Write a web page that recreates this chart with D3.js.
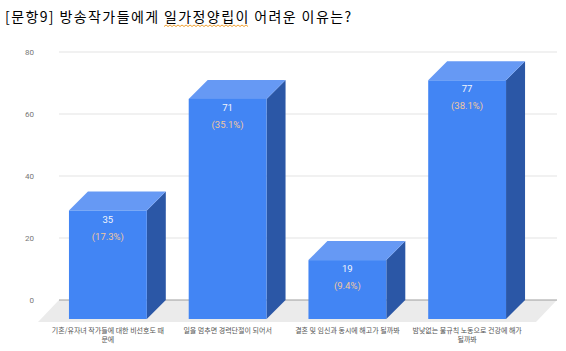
<!DOCTYPE html>
<html>
<head>
<meta charset="utf-8">
<script src="https://cdn.jsdelivr.net/npm/d3@7"></script>
<style>
  body { margin: 0; background: #fff; }
  text { font-family: Roboto, "Noto Sans CJK KR", sans-serif; }
</style>
</head>
<body>
<div id="chart"></div>
<script>
// data
const categories = [
    ["기혼/유자녀 작가들에 대한 비선호도 때", "문에"],
    ["일을 멈추면 경력단절이 되어서"],
    ["결혼 및 임신과 동시에 해고가 될까봐"],
    ["밤낮없는 불규칙 노동으로 건강에 해가", "될까봐"]
];
const counts = [35, 71, 19, 77];
const shares = ["17.3%", "35.1%", "9.4%", "38.1%"];
const yTicks = [0, 20, 40, 60, 80];

const width = 566, height = 351;
const depth = 19;          // bar depth (x right / y up)
const floorDepth = 21;

const svg = d3.select("#chart").append("svg")
    .attr("width", width)
    .attr("height", height);

// title
const title = svg.append("text")
    .attr("x", 5)
    .attr("y", 22)
    .attr("fill", "#000")
    .style("font-family", "\"Noto Sans CJK KR\", sans-serif")
    .style("font-size", "14px")
    .style("letter-spacing", "1.4px")
    .text("[문항9] 방송작가들에게 일가정양립이 어려운 이유는?");

// spell-check squiggle under 일가정양립이
let t = title.node().textContent;
let i0 = t.indexOf("일가정양립이");
let i1 = i0 + "일가정양립이".length - 1;
let sx = title.node().getStartPositionOfChar(i0).x;
let ex = title.node().getEndPositionOfChar(i1).x;
let sq = [];
for (let x = sx; x <= ex; x += 2) sq.push([x, (Math.round((x - sx) / 2) % 2) ? 25 : 26.5]);
svg.append("path")
    .attr("d", d3.line()(sq))
    .attr("fill", "none")
    .attr("stroke", "#f0a030")
    .attr("stroke-width", 1);

// scales
let x = d3.scaleBand()
    .domain(d3.range(categories.length))
    .range([48, 527])
    .paddingInner(0.35)
    .paddingOuter(0.175);

let yBack = d3.scaleLinear().domain([0, 80]).range([300, 52]);
let yFront = d3.scaleLinear().domain([0, 80]).range([319, 71]);

// floor
let fl = 38, fr = 536, fy = 322;
svg.append("path")
    .attr("d", `M${fl},${fy}L${fr},${fy}L${fr + floorDepth},${fy - floorDepth - 1}L${fl + floorDepth},${fy - floorDepth - 1}Z`)
    .attr("fill", "#ebebeb");

// gridlines on back wall
svg.append("g").selectAll("line")
    .data(yTicks)
    .join("line")
    .attr("x1", 59)
    .attr("x2", 557)
    .attr("y1", d => yBack(d))
    .attr("y2", d => yBack(d))
    .attr("stroke", d => d === 0 ? "#9e9e9e" : "#e3e3e3")
    .attr("stroke-width", 1);

svg.append("g").selectAll("text")
    .data(yTicks)
    .join("text")
    .attr("x", 34)
    .attr("y", d => yBack(d) + 3)
    .attr("text-anchor", "end")
    .attr("fill", "#777")
    .style("font-size", "8px")
    .text(d => d);

// bars
let bars = svg.append("g").selectAll("g")
    .data(counts)
    .join("g");

bars.append("path")   // side
    .attr("d", (d, i) => {
        let x1 = x(i) + x.bandwidth();
        return `M${x1},${yFront(d)}L${x1 + depth},${yFront(d) - depth}L${x1 + depth},${yFront(0) - depth}L${x1},${yFront(0)}Z`;
    })
    .attr("fill", "#2b57a6");

bars.append("path")   // top
    .attr("d", (d, i) => {
        let x0 = x(i), x1 = x(i) + x.bandwidth();
        return `M${x0},${yFront(d)}L${x0 + depth},${yFront(d) - depth}L${x1 + depth},${yFront(d) - depth}L${x1},${yFront(d)}Z`;
    })
    .attr("fill", "#6699f4");

bars.append("rect")   // front
    .attr("x", (d, i) => x(i))
    .attr("y", d => yFront(d))
    .attr("width", x.bandwidth())
    .attr("height", d => yFront(0) - yFront(d))
    .attr("fill", "#4285f4");

bars.append("text")
    .attr("x", (d, i) => x(i) + x.bandwidth() / 2)
    .attr("y", d => yFront(d) + 12)
    .attr("text-anchor", "middle")
    .attr("fill", "#f2f5fb")
    .style("font-size", "9.5px")
    .text(d => d);

bars.append("text")
    .attr("x", (d, i) => x(i) + x.bandwidth() / 2)
    .attr("y", d => yFront(d) + 29)
    .attr("text-anchor", "middle")
    .attr("fill", "#f1c79d")
    .style("font-size", "9.5px")
    .text((d, i) => "(" + shares[i] + ")");

// category labels
svg.append("g").selectAll("text")
    .data(categories)
    .join("text")
    .attr("x", (d, i) => x(i) + x.bandwidth() / 2)
    .attr("y", 333)
    .attr("text-anchor", "middle")
    .attr("fill", "#555")
    .style("font-size", "7px")
    .style("font-family", "\"Noto Sans CJK KR\", sans-serif")
    .selectAll("tspan")
    .data(d => d)
    .join("tspan")
    .attr("x", function () { return d3.select(this.parentNode).attr("x"); })
    .attr("dy", (d, j) => j === 0 ? 0 : 9)
    .text(d => d);
</script>
</body>
</html>
